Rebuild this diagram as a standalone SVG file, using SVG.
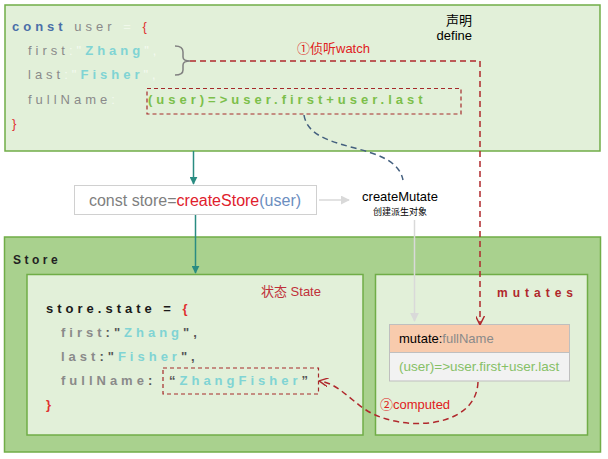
<svg xmlns="http://www.w3.org/2000/svg" width="608" height="459" viewBox="0 0 608 459">
<defs>
<style>
.panel{fill:#e2f0d9;stroke:#70ad47;stroke-width:1.5}
.code{font-family:"Liberation Sans",Arial,sans-serif;font-size:13px;letter-spacing:4px}
.b{font-weight:bold}
.lbl{font-family:"Liberation Sans",Arial,"Noto Sans CJK SC",sans-serif}
.dred{fill:none;stroke:#b0282c;stroke-width:1.5;stroke-dasharray:6 4}
.dbox{fill:none;stroke:#a52a2a;stroke-width:1.2;stroke-dasharray:4 3}
</style>
<marker id="teal" viewBox="0 0 10 10" refX="9" refY="5" markerWidth="8" markerHeight="8" orient="auto" markerUnits="userSpaceOnUse"><path d="M0,0 L10,5 L0,10 z" fill="#2a8c82"/></marker>
<marker id="gray" viewBox="0 0 10 10" refX="9" refY="5" markerWidth="9" markerHeight="9" orient="auto" markerUnits="userSpaceOnUse"><path d="M0,0 L10,5 L0,10 z" fill="#d9d9d9"/></marker>
<marker id="red" viewBox="0 0 10 10" refX="9" refY="5" markerWidth="9" markerHeight="9" orient="auto" markerUnits="userSpaceOnUse"><path d="M0,0 L10,5 L0,10" fill="none" stroke="#b0282c" stroke-width="1.6"/></marker>
</defs>

<g id="define">
<rect class="panel" x="5" y="5" width="595" height="146"/>
<text class="lbl" x="472" y="25" font-size="13" text-anchor="end" fill="#000">声明</text>
<text class="lbl" x="472" y="40" font-size="13" text-anchor="end" fill="#000">define</text>
<text class="code" x="12" y="31"><tspan class="b" fill="#4a6fa8">const</tspan><tspan fill="#8a8a8a"> user</tspan><tspan fill="#f0f8ea"> = </tspan><tspan fill="#e03030">{</tspan></text>
<text class="code" x="28" y="55"><tspan fill="#8a8a8a">first</tspan><tspan fill="#f4faf0">:"</tspan><tspan class="b" fill="#80d4d4">Zhang</tspan><tspan fill="#f4faf0">",</tspan></text>
<text class="code" x="28" y="79"><tspan fill="#8a8a8a">last</tspan><tspan fill="#f4faf0">:"</tspan><tspan class="b" fill="#80d4d4">Fisher</tspan><tspan fill="#f4faf0">",</tspan></text>
<text class="code" x="28" y="104"><tspan fill="#8a8a8a">fullName</tspan><tspan fill="#f4faf0">:</tspan></text>
<text class="code b" x="148" y="104" fill="#7cbf4a">(user)=&gt;user.first+user.last</text>
<text class="code" x="12" y="128" fill="#e03030">}</text>
<path d="M175,46 Q183,46 183,52 L183,57 Q183,61 190,61 Q183,61 183,65 L183,70 Q183,75 175,75" fill="none" stroke="#808080" stroke-width="1.5"/>
<rect class="dbox" x="147" y="88.5" width="314" height="25.5"/>
</g>

<g id="createStore">
<rect x="74.5" y="185.5" width="242" height="29" fill="#fff" stroke="#d0d0d0" stroke-width="1"/>
<text class="lbl" x="195" y="206" font-size="16" text-anchor="middle"><tspan fill="#7f7f7f">const store=</tspan><tspan fill="#e0202c">createStore</tspan><tspan fill="#6c8ebf">(user)</tspan></text>
</g>

<g id="createMutate">
<text class="lbl" x="400" y="201" font-size="13" text-anchor="middle" fill="#000">createMutate</text>
<text class="lbl" x="400" y="215" font-size="9" text-anchor="middle" fill="#000">创建派生对象</text>
</g>

<g id="store">
<rect x="4.5" y="237" width="596" height="215" fill="#a9d18e" stroke="#70ad47" stroke-width="1.5"/>
<text class="lbl b" x="13" y="264" font-size="12" letter-spacing="3.5" fill="#222">Store</text>
</g>

<g id="state">
<rect class="panel" x="27" y="274.5" width="336" height="160.5"/>
<text class="lbl" x="261" y="296" font-size="13" fill="#c0303a">状态 State</text>
<text class="code b" x="46" y="313"><tspan fill="#1a1a1a">store.state = </tspan><tspan fill="#e03030">{</tspan></text>
<text class="code b" x="61" y="337"><tspan fill="#8a8a8a">first</tspan><tspan fill="#555">:"</tspan><tspan fill="#80d4d4">Zhang</tspan><tspan fill="#555">",</tspan></text>
<text class="code b" x="61" y="361"><tspan fill="#8a8a8a">last</tspan><tspan fill="#555">:"</tspan><tspan fill="#80d4d4">Fisher</tspan><tspan fill="#555">",</tspan></text>
<text class="code b" x="61" y="385"><tspan fill="#8a8a8a">fullName</tspan><tspan fill="#555">: </tspan><tspan x="169" fill="#555">“</tspan><tspan fill="#80d4d4">ZhangFisher</tspan><tspan fill="#555">”</tspan></text>
<text class="code b" x="46" y="409" fill="#e03030">}</text>
<rect class="dbox" x="163" y="368" width="155.5" height="26"/>
</g>

<g id="mutates">
<rect class="panel" x="375.5" y="274.5" width="212" height="160.5"/>
<text class="lbl b" x="497" y="297" font-size="12" letter-spacing="5" fill="#b0282c">mutates</text>
</g>

<g id="mutate-node">
<rect x="389.5" y="324.5" width="180" height="28" fill="#f8cbad" stroke="#bfbfbf"/>
<rect x="389.5" y="352.5" width="180" height="28.5" fill="#f2f2f2" stroke="#bfbfbf"/>
<text class="lbl" x="399" y="343" font-size="13"><tspan fill="#000">mutate:</tspan><tspan fill="#8a8a8a">fullName</tspan></text>
<text class="lbl" x="399" y="371" font-size="13.5" fill="#86c066">(user)=&gt;user.first+user.last</text>
</g>

<g id="connectors">
<line x1="193.5" y1="151" x2="193.5" y2="184" stroke="#2a8c82" stroke-width="1.5" marker-end="url(#teal)"/>
<line x1="195.5" y1="215" x2="195.5" y2="273" stroke="#2a8c82" stroke-width="1.5" marker-end="url(#teal)"/>
<line x1="319" y1="200" x2="349" y2="200" stroke="#d9d9d9" stroke-width="1.5" marker-end="url(#gray)"/>
<line x1="414.5" y1="220" x2="414.5" y2="321" stroke="#d9d9d9" stroke-width="1.5" marker-end="url(#gray)"/>
<path d="M304,115 C310,155 395,140 403,180" fill="none" stroke="#44607f" stroke-width="1.5" stroke-dasharray="6 4"/>
<path class="dred" d="M190,61 L480,61 L480,324" marker-end="url(#red)"/>
<text class="lbl" x="297" y="53" font-size="13" fill="#e02020">①侦听watch</text>
<path class="dred" d="M478,382 C476,430 400,432 366,410 C348,398 338,384 320,381" marker-end="url(#red)"/>
<text class="lbl" x="380" y="409" font-size="13" fill="#e02020">②computed</text>
</g>
</svg>
